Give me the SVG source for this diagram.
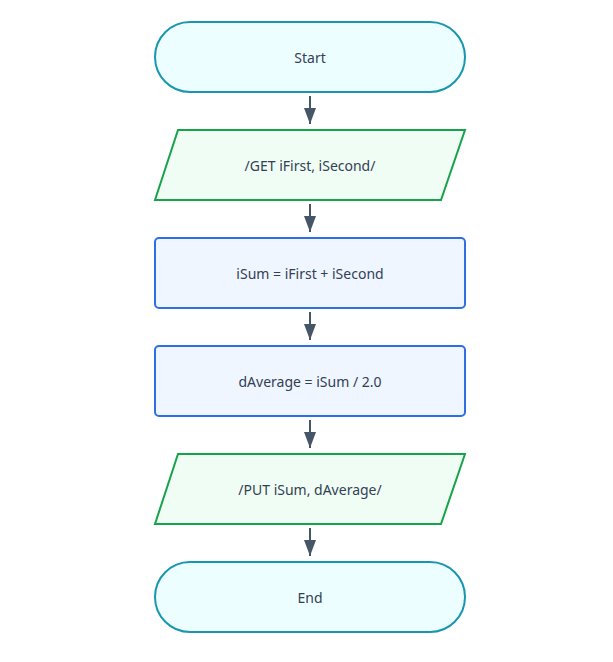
<svg xmlns="http://www.w3.org/2000/svg" width="613" height="662" viewBox="0 0 613 662">
<defs>
<style>
.term{fill:#ecfeff;stroke:#1896b0;stroke-width:2}
.io{fill:#f0fdf4;stroke:#16a34a;stroke-width:2}
.proc{fill:#eff6ff;stroke:#2f6fe6;stroke-width:2}
.lbl{font-family:"Noto Sans","Open Sans",sans-serif;font-size:14px;fill:#334155;text-anchor:middle;dominant-baseline:central}
.edge{stroke:#475569;stroke-width:2;fill:none}
</style>
<marker id="ah" viewBox="0 0 16 12" refX="16" refY="6" markerWidth="16" markerHeight="12" markerUnits="userSpaceOnUse" orient="auto">
<path d="M0,0 L16,6 L0,12 Z" fill="#475569"/>
</marker>
</defs>
<rect width="613" height="662" fill="#ffffff"/>
<g id="connectors">
<line class="edge" x1="310" y1="96" x2="310" y2="124" marker-end="url(#ah)"/>
<line class="edge" x1="310" y1="204" x2="310" y2="232" marker-end="url(#ah)"/>
<line class="edge" x1="310" y1="312" x2="310" y2="340" marker-end="url(#ah)"/>
<line class="edge" x1="310" y1="420" x2="310" y2="448" marker-end="url(#ah)"/>
<line class="edge" x1="310" y1="528" x2="310" y2="556" marker-end="url(#ah)"/>
</g>
<g id="start">
<rect class="term" x="155" y="22" width="310" height="70" rx="35"/>
<text class="lbl" x="310" y="57">Start</text>
</g>
<g id="get">
<polygon class="io" points="178,130 465,130 441,200 155,200"/>
<text class="lbl" x="310" y="165">/GET iFirst, iSecond/</text>
</g>
<g id="sum">
<rect class="proc" x="155" y="238" width="310" height="70" rx="4"/>
<text class="lbl" x="310" y="273">iSum = iFirst + iSecond</text>
</g>
<g id="avg">
<rect class="proc" x="155" y="346" width="310" height="70" rx="4"/>
<text class="lbl" x="310" y="381">dAverage = iSum / 2.0</text>
</g>
<g id="put">
<polygon class="io" points="178,454 465,454 441,524 155,524"/>
<text class="lbl" x="310" y="489">/PUT iSum, dAverage/</text>
</g>
<g id="end">
<rect class="term" x="155" y="562" width="310" height="70" rx="35"/>
<text class="lbl" x="310" y="597">End</text>
</g>
</svg>
